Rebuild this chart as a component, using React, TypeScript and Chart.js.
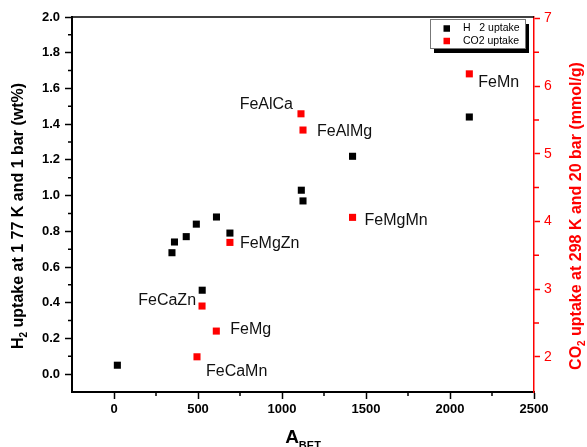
import React, { useEffect, useRef } from 'react';
import { Chart, registerables } from 'chart.js';

Chart.register(...registerables);

// ---- data ----
const h2Area = [20, 345, 360, 430, 490, 610, 690, 525, 1115, 1125, 1420, 2115];
const h2Uptake = [0.05, 0.68, 0.74, 0.77, 0.84, 0.88, 0.79, 0.47, 1.03, 0.97, 1.22, 1.44];

const co2Names = ['FeAlCa', 'FeAlMg', 'FeMgMn', 'FeMgZn', 'FeCaZn', 'FeMg', 'FeCaMn', 'FeMn'];
const co2Area = [1113, 1125, 1420, 690, 524, 609, 494, 2115];
const co2Uptake = [5.59, 5.35, 4.06, 3.69, 2.75, 2.38, 2.0, 6.18];

const xTicks = [0, 500, 1000, 1500, 2000, 2500];
const xMinorTicks = [250, 750, 1250, 1750, 2250];
const yLeftTicks = [0, 0.2, 0.4, 0.6, 0.8, 1.0, 1.2, 1.4, 1.6, 1.8, 2.0];
const yLeftMinorTicks = [0.1, 0.3, 0.5, 0.7, 0.9, 1.1, 1.3, 1.5, 1.7, 1.9];
const yRightTicks = [2, 3, 4, 5, 6, 7];
const yRightMinorTicks = [2.5, 3.5, 4.5, 5.5, 6.5];

const seriesLabels = ['H   2 uptake', 'CO2 uptake'];

// label placement (style only): alignment and pixel offset from the point
const labelPlacement = [
  { align: 'right', dx: -8, dy: -9 },
  { align: 'left', dx: 14, dy: 2 },
  { align: 'left', dx: 12, dy: 3 },
  { align: 'left', dx: 10, dy: 1 },
  { align: 'right', dx: -6, dy: -5 },
  { align: 'left', dx: 14, dy: -1 },
  { align: 'left', dx: 9, dy: 15 },
  { align: 'left', dx: 9, dy: 9 },
];

const FONT = '"Liberation Sans", Arial, Helvetica, sans-serif';
const RED = '#ff0000';

type Part = { t: string; sub?: boolean };

function drawRich(
  ctx: CanvasRenderingContext2D,
  parts: Part[],
  cx: number,
  cy: number,
  rot: number,
  color: string,
  size: number,
  subSize: number,
  subDy: number
) {
  ctx.save();
  ctx.translate(cx, cy);
  ctx.rotate(rot);
  ctx.fillStyle = color;
  ctx.textBaseline = 'middle';
  ctx.textAlign = 'left';
  let total = 0;
  const widths = parts.map((p) => {
    ctx.font = `bold ${p.sub ? subSize : size}px ${FONT}`;
    const w = ctx.measureText(p.t).width;
    total += w;
    return w;
  });
  let x = -total / 2;
  parts.forEach((p, i) => {
    ctx.font = `bold ${p.sub ? subSize : size}px ${FONT}`;
    ctx.fillText(p.t, x, p.sub ? subDy : 0);
    x += widths[i];
  });
  ctx.restore();
}

const overlayPlugin = {
  id: 'overlay',
  afterDraw(chart: any) {
    const ctx: CanvasRenderingContext2D = chart.ctx;
    const { left, right, top, bottom } = chart.chartArea;
    const xs = chart.scales.x;
    const yl = chart.scales.y;
    const yr = chart.scales.y2;
    ctx.save();

    // top frame line
    ctx.strokeStyle = '#000';
    ctx.lineWidth = 1.5;
    ctx.beginPath();
    ctx.moveTo(left, top);
    ctx.lineTo(right, top);
    ctx.stroke();

    // minor ticks
    ctx.lineWidth = 1.5;
    ctx.strokeStyle = '#000';
    ctx.beginPath();
    xMinorTicks.forEach((v) => {
      const px = xs.getPixelForValue(v);
      ctx.moveTo(px, bottom);
      ctx.lineTo(px, bottom + 4);
    });
    yLeftMinorTicks.forEach((v) => {
      const py = yl.getPixelForValue(v);
      ctx.moveTo(left, py);
      ctx.lineTo(left - 4, py);
    });
    ctx.stroke();
    ctx.strokeStyle = RED;
    ctx.beginPath();
    yRightMinorTicks.forEach((v) => {
      const py = yr.getPixelForValue(v);
      ctx.moveTo(right, py);
      ctx.lineTo(right + 5, py);
    });
    ctx.stroke();

    // point labels
    const meta = chart.getDatasetMeta(1);
    ctx.font = `16px ${FONT}`;
    ctx.fillStyle = '#111';
    ctx.textBaseline = 'middle';
    meta.data.forEach((pt: any, i: number) => {
      const p = labelPlacement[i];
      ctx.textAlign = p.align === 'right' ? 'right' : 'left';
      ctx.fillText(co2Names[i], pt.x + p.dx, pt.y + p.dy);
    });

    // legend box with shadow
    const lx = 430, ly = 19, lw = 95, lh = 29;
    ctx.fillStyle = '#000';
    ctx.fillRect(lx + 4, ly + 5, lw, lh);
    ctx.fillStyle = '#fff';
    ctx.fillRect(lx, ly, lw, lh);
    ctx.strokeStyle = '#777';
    ctx.lineWidth = 1;
    ctx.strokeRect(lx + 0.5, ly + 0.5, lw, lh);
    const colors = ['#000', RED];
    ctx.font = `10.5px ${FONT}`;
    ctx.textAlign = 'left';
    ctx.textBaseline = 'middle';
    seriesLabels.forEach((lab, i) => {
      const yy = ly + 9.5 + i * 12.5;
      ctx.fillStyle = colors[i];
      ctx.fillRect(lx + 13.5, yy - 3.25, 6.5, 6.5);
      ctx.fillStyle = '#000';
      ctx.fillText(lab, lx + 33, yy);
    });

    // axis titles
    drawRich(
      ctx,
      [{ t: 'H' }, { t: '2', sub: true }, { t: ' uptake at 1 77 K and 1 bar (wt%)' }],
      19,
      216,
      -Math.PI / 2,
      '#000',
      16,
      10,
      5
    );
    drawRich(
      ctx,
      [{ t: 'CO' }, { t: '2', sub: true }, { t: ' uptake at 298 K and 20 bar (mmol/g)' }],
      577,
      216,
      -Math.PI / 2,
      RED,
      16,
      10,
      5
    );
    drawRich(
      ctx,
      [{ t: 'A' }, { t: 'BET', sub: true }],
      (left + right) / 2,
      438,
      0,
      '#000',
      19,
      11,
      8
    );

    ctx.restore();
  },
};

export default function App() {
  const ref = useRef<HTMLCanvasElement | null>(null);

  useEffect(() => {
    if (!ref.current) return;
    const tickFont = { family: FONT, size: 13, weight: 'bold' as const };
    const chart = new Chart(ref.current, {
      type: 'scatter',
      data: {
        datasets: [
          {
            label: seriesLabels[0],
            data: h2Area.map((x, i) => ({ x, y: h2Uptake[i] })),
            xAxisID: 'x',
            yAxisID: 'y',
            backgroundColor: '#000',
            borderColor: '#000',
            borderWidth: 0,
            pointStyle: 'rect',
            pointRadius: 5,
          },
          {
            label: seriesLabels[1],
            data: co2Area.map((x, i) => ({ x, y: co2Uptake[i] })),
            xAxisID: 'x',
            yAxisID: 'y2',
            backgroundColor: RED,
            borderColor: RED,
            borderWidth: 0,
            pointStyle: 'rect',
            pointRadius: 5,
          },
        ],
      },
      options: {
        animation: false,
        responsive: false,
        devicePixelRatio: 1,
        layout: { padding: { top: 17, left: 0, right: 0, bottom: 0 } },
        plugins: {
          legend: { display: false },
          tooltip: { enabled: false },
        },
        scales: {
          x: {
            type: 'linear',
            position: 'bottom',
            min: -250,
            max: 2500,
            afterBuildTicks: (s: any) => {
              s.ticks = xTicks.map((v) => ({ value: v }));
            },
            afterFit: (s: any) => {
              s.height = 55;
            },
            ticks: {
              font: tickFont,
              color: '#000',
              padding: 3,
              maxRotation: 0,
              autoSkip: false,
              callback: (v: any) => String(v),
            },
            grid: {
              drawOnChartArea: false,
              tickLength: 7,
              tickColor: '#000',
              tickWidth: 1.5,
              color: '#000',
            },
            border: { color: '#000', width: 2 },
          },
          y: {
            type: 'linear',
            position: 'left',
            min: -0.1,
            max: 2.0,
            afterBuildTicks: (s: any) => {
              s.ticks = yLeftTicks.map((v) => ({ value: v }));
            },
            afterFit: (s: any) => {
              s.width = 72;
            },
            ticks: {
              font: tickFont,
              color: '#000',
              padding: 5,
              autoSkip: false,
              callback: (v: any) => Number(v).toFixed(1),
            },
            grid: {
              drawOnChartArea: false,
              tickLength: 7,
              tickColor: '#000',
              tickWidth: 1.5,
              color: '#000',
            },
            border: { color: '#000', width: 2 },
          },
          y2: {
            type: 'linear',
            position: 'right',
            min: 1.48,
            max: 7.02,
            afterBuildTicks: (s: any) => {
              s.ticks = yRightTicks.map((v) => ({ value: v }));
            },
            afterFit: (s: any) => {
              s.width = 53;
            },
            ticks: {
              font: { family: FONT, size: 14 },
              color: RED,
              padding: 4,
              autoSkip: false,
              callback: (v: any) => String(v),
            },
            grid: {
              drawOnChartArea: false,
              tickLength: 6,
              tickColor: RED,
              tickWidth: 1.5,
              color: RED,
            },
            border: { color: RED, width: 1.5 },
          },
        },
      },
      plugins: [overlayPlugin],
    });
    return () => chart.destroy();
  }, []);

  return (
    <div style={{ position: 'absolute', left: 0, top: 0, width: 587, height: 447, background: '#fff' }}>
      <canvas ref={ref} width={587} height={447} style={{ display: 'block' }} />
    </div>
  );
}
